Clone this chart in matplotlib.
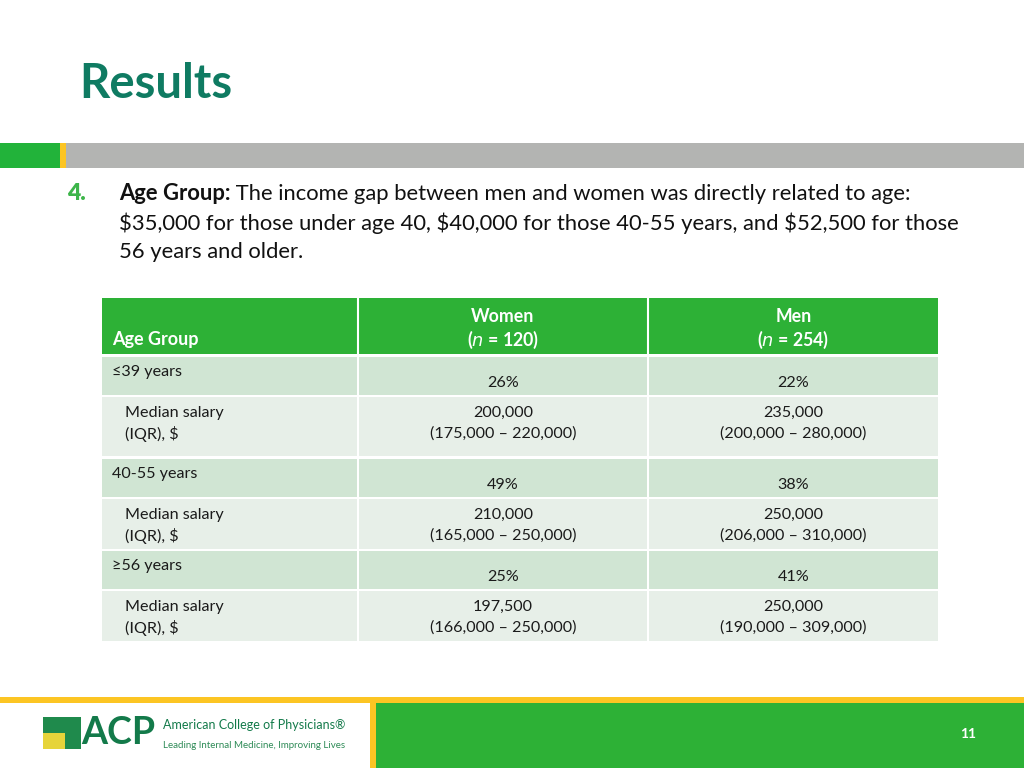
import matplotlib
matplotlib.use('Agg')
import matplotlib.pyplot as plt
from matplotlib.patches import Rectangle

plt.rcParams['font.family'] = ['Lato', 'DejaVu Sans']

#%% data
age_groups   = ['\u226439 years', '40-55 years', '\u226556 years']
n_women      = 120
n_men        = 254
women_pct    = [26, 49, 25]
men_pct      = [22, 38, 41]
women_median = [200000, 210000, 197500]
women_iqr    = [(175000, 220000), (165000, 250000), (166000, 250000)]
men_median   = [235000, 250000, 250000]
men_iqr      = [(200000, 280000), (206000, 310000), (190000, 309000)]

title = 'Results'
para_bold = 'Age Group:'
para_lines = [' The income gap between men and women was directly related to age:',
              '$35,000 for those under age 40, $40,000 for those 40-55 years, and $52,500 for those',
              '56 years and older.']

#%% colours
GREEN  = '#2db136'
YELLOW = '#fcc523'
GRAY   = '#b3b4b2'
TEAL   = '#0f7b62'
DARK_ROW  = '#d0e5d3'
LIGHT_ROW = '#e7efe8'
TXT = '#1a1a1a'
FS = 11.6

fig = plt.figure(figsize=(10.24, 7.68), dpi=100)
ax = fig.add_axes([0, 0, 1, 1])
ax.set_xlim(0, 1024)
ax.set_ylim(768, 0)
ax.set_axis_off()

def box(x, y, w, h, c):
    ax.add_patch(Rectangle((x, y), w, h, facecolor=c, edgecolor='none'))

# title + band
ax.text(79, 84, title, color=TEAL, fontsize=34, fontweight='bold', va='center')
box(0, 143, 60, 25, '#22b33a')
box(60, 143, 6, 25, YELLOW)
box(66, 143, 958, 25, GRAY)

# paragraph
ax.text(67, 193, '4.', color='#3db54a', fontsize=16.5, fontweight='heavy', va='center')
t = ax.text(119, 194, para_bold, fontsize=15.8, fontweight='bold', va='center', color='#111111')
ax.annotate(para_lines[0], xy=(1, 0.5), xycoords=t, va='center', fontsize=15.8, color='#111111')
for i, ln in enumerate(para_lines[1:]):
    ax.text(119, 223 + 29 * i, ln, fontsize=15.8, va='center', color='#111111')

#%% table
cols = [(102, 255), (359, 288), (649, 289)]
box(cols[0][0], 298, 836, 56, GREEN)
for x, w in cols[1:]:
    ax.plot([x - 1, x - 1], [298, 354], color='white', lw=1.5)
ax.text(112, 340, 'Age Group', color='white', fontsize=13, fontweight='bold', va='center')
for (x, w), lab, n in zip(cols[1:], ['Women', 'Men'], [n_women, n_men]):
    ax.text(x + w / 2, 316, lab, color='white', fontsize=12.8, fontweight='bold', ha='center', va='center')
    ax.text(x + w / 2, 340, '($\\mathit{n}$ = %d)' % n, color='white', fontsize=12.8, fontweight='bold',
            ha='center', va='center')

row_tops = [357, 459, 551]
for g in range(3):
    y0 = row_tops[g]
    # group row
    for x, w in cols:
        box(x, y0, w, 38, DARK_ROW)
    ax.text(112, y0 + 15, age_groups[g], fontsize=FS, va='center', color=TXT)
    ax.text(cols[1][0] + cols[1][1] / 2, y0 + 26, '%d%%' % women_pct[g], fontsize=FS,
            ha='center', va='center', color=TXT)
    ax.text(cols[2][0] + cols[2][1] / 2, y0 + 26, '%d%%' % men_pct[g], fontsize=FS,
            ha='center', va='center', color=TXT)
    # median row
    h = 59 if g == 0 else 50
    ym = y0 + 40
    for x, w in cols:
        box(x, ym, w, h, LIGHT_ROW)
    ax.text(125, ym + 16, 'Median salary', fontsize=FS, va='center', color=TXT)
    ax.text(125, ym + 37, '(IQR), $', fontsize=FS, va='center', color=TXT)
    for (x, w), med, iqr in zip(cols[1:], [women_median[g], men_median[g]], [women_iqr[g], men_iqr[g]]):
        ax.text(x + w / 2, ym + 16, f'{med:,}', fontsize=FS, ha='center', va='center', color=TXT)
        ax.text(x + w / 2, ym + 37, f'({iqr[0]:,} \u2013 {iqr[1]:,})', fontsize=FS,
                ha='center', va='center', color=TXT)

#%% footer
box(0, 697, 1024, 6, YELLOW)
box(370, 697, 6, 71, YELLOW)
box(376, 703, 648, 65, GREEN)
ax.text(968, 734, '11', color='white', fontsize=10, fontweight='bold', ha='center', va='center')

# logo
box(43, 717, 38, 32, '#1f8a4c')
box(43, 733, 22, 16, '#e6d43a')
ax.text(81, 733, 'ACP', color='#137a4a', fontsize=27, fontweight='bold', va='center')
ax.text(163, 725, 'American College of Physicians\u00ae', color='#137a4a', fontsize=9, va='center')
ax.text(163, 745, 'Leading Internal Medicine, Improving Lives', color='#2e8b57', fontsize=7, va='center')

fig.savefig('out.png', dpi=100, facecolor='white')
